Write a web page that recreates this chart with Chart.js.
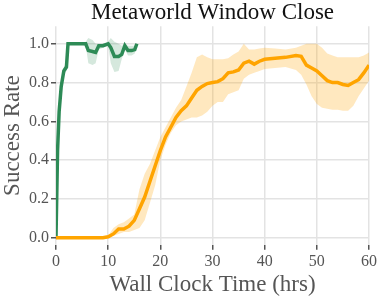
<!DOCTYPE html>
<html><head><meta charset="utf-8">
<script src="https://cdn.jsdelivr.net/npm/chart.js@4/dist/chart.umd.min.js"></script>
<style>html,body{margin:0;padding:0;background:#fff}#w{width:379px;height:297px}</style>
</head><body><div id="w"><canvas id="c"></canvas></div>
<script>
const greenX =     [0, 0.3, 0.6, 1.0, 1.5, 2.0, 2.3, 3, 4, 5, 5.7, 6.2, 7, 7.6, 8.2, 9, 10, 10.5, 11.2, 12, 12.6, 13.2, 13.8, 14.5, 15.1, 15.5];
const greenMean =  [0, 0.45, 0.65, 0.78, 0.86, 0.88, 1.0, 1.0, 1.0, 1.0, 1.0, 0.965, 0.96, 0.955, 0.99, 0.99, 1.0, 0.98, 0.935, 0.935, 0.945, 0.99, 0.965, 0.965, 0.97, 1.0];
const greenLow =   [0, 0.4, 0.6, 0.76, 0.84, 0.86, 0.995, 0.995, 0.995, 0.995, 0.99, 0.9, 0.89, 0.9, 0.97, 0.98, 0.99, 0.9, 0.855, 0.86, 0.92, 0.97, 0.94, 0.94, 0.95, 0.995];
const greenHigh =  [0, 0.5, 0.7, 0.8, 0.88, 0.9, 1.005, 1.005, 1.005, 1.005, 1.01, 1.03, 1.02, 1.0, 1.0, 1.0, 1.01, 1.03, 1.01, 1.0, 0.99, 1.0, 0.99, 0.99, 0.99, 1.005];

const orangeX =    [0, 9, 10, 11, 12, 13, 14, 15, 16, 17, 18, 19, 20, 21, 22, 23, 24, 25, 26, 27, 28, 29, 30, 31, 32, 33, 34, 35, 36, 37, 38, 39, 40, 42, 44, 46, 47, 48, 49, 50, 51, 52, 53, 54, 55, 56, 57, 58, 59, 60];
const orangeMean = [0, 0, 0.005, 0.02, 0.045, 0.045, 0.06, 0.09, 0.15, 0.21, 0.29, 0.37, 0.45, 0.52, 0.57, 0.62, 0.655, 0.68, 0.72, 0.76, 0.78, 0.795, 0.80, 0.805, 0.82, 0.85, 0.855, 0.865, 0.90, 0.91, 0.895, 0.91, 0.92, 0.925, 0.93, 0.94, 0.935, 0.89, 0.875, 0.86, 0.835, 0.81, 0.80, 0.80, 0.79, 0.785, 0.80, 0.815, 0.85, 0.89];
const orangeLow =  [0, 0, 0, 0.01, 0.02, 0.03, 0.03, 0.04, 0.05, 0.09, 0.18, 0.27, 0.40, 0.48, 0.54, 0.58, 0.60, 0.61, 0.62, 0.62, 0.63, 0.65, 0.68, 0.70, 0.70, 0.74, 0.75, 0.76, 0.82, 0.84, 0.85, 0.86, 0.87, 0.875, 0.88, 0.865, 0.84, 0.79, 0.73, 0.69, 0.67, 0.665, 0.66, 0.66, 0.655, 0.655, 0.68, 0.73, 0.77, 0.81];
const orangeHigh = [0, 0, 0.01, 0.05, 0.07, 0.08, 0.10, 0.12, 0.25, 0.33, 0.38, 0.45, 0.52, 0.57, 0.62, 0.67, 0.71, 0.78, 0.85, 0.93, 0.945, 0.93, 0.92, 0.92, 0.92, 0.925, 0.945, 0.96, 1.0, 0.97, 0.97, 0.975, 0.98, 0.975, 0.97, 0.98, 0.99, 1.0, 1.0, 1.0, 0.98, 0.95, 0.94, 0.93, 0.93, 0.93, 0.93, 0.93, 0.94, 0.955];

const xTicks = [0, 10, 20, 30, 40, 50, 60];
const yTicks = [0.0, 0.2, 0.4, 0.6, 0.8, 1.0];
const titleText = "Metaworld Window Close";
const xLabel = "Wall Clock Time (hrs)";
const yLabel = "Success Rate";

const pts = (xs, ys) => xs.map((x, i) => ({x: x, y: ys[i]}));
const GREEN = '#2e8b57', ORANGE = '#ffa500';
const band = (xs, ys, col, fill) => ({data: pts(xs, ys), borderWidth: 0, pointRadius: 0, backgroundColor: col, fill: fill, tension: 0});
const FONT = "'Liberation Serif', 'DejaVu Serif', serif";
Chart.defaults.font.family = FONT;

// center the title over the plot area (as in the reference)
const titleOverPlot = {
  id: 'titleOverPlot',
  afterLayout(chart) {
    const t = chart.titleBlock, a = chart.chartArea;
    if (t && a) { t.left = a.left; t.right = a.right; t.width = a.right - a.left; }
  }
};

new Chart(document.getElementById('c'), {
  type: 'line',
  data: {datasets: [
    band(orangeX, orangeHigh, 'rgba(255,165,0,0.25)', false),
    band(orangeX, orangeLow, 'rgba(255,165,0,0.25)', '-1'),
    {data: pts(orangeX, orangeMean), borderColor: ORANGE, borderWidth: 3.5, pointRadius: 0, fill: false, tension: 0},
    band(greenX, greenHigh, 'rgba(46,139,87,0.2)', false),
    band(greenX, greenLow, 'rgba(46,139,87,0.2)', '-1'),
    {data: pts(greenX, greenMean), borderColor: GREEN, borderWidth: 3.5, pointRadius: 0, fill: false, tension: 0}
  ]},
  plugins: [titleOverPlot],
  options: {
    responsive: true, maintainAspectRatio: false, animation: false,
    layout: {padding: {top: 0, right: 9, left: 1, bottom: 1}},
    plugins: {
      legend: {display: false}, tooltip: {enabled: false},
      title: {display: true, text: titleText, color: '#111', font: {family: FONT, size: 23, weight: 'normal', lineHeight: 1.1}, padding: {top: 0, bottom: 1}}
    },
    scales: {
      x: {type: 'linear', min: 0, max: 60,
        afterBuildTicks: a => { a.ticks = xTicks.map(v => ({value: v})); },
        grid: {color: '#e3e3e3', lineWidth: 1.5, tickColor: '#555', tickLength: 5, drawTicks: true},
        border: {display: false},
        ticks: {color: '#555', font: {family: FONT, size: 16}, padding: 2, maxRotation: 0, callback: v => String(v)},
        title: {display: true, text: xLabel, color: '#555', font: {family: FONT, size: 23, lineHeight: 1.0}, padding: {top: 0, bottom: 0}}
      },
      y: {type: 'linear', min: -0.036, max: 1.09,
        afterBuildTicks: a => { a.ticks = yTicks.map(v => ({value: v})); },
        grid: {color: '#e3e3e3', lineWidth: 1.5, tickColor: '#555', tickLength: 5, drawTicks: true},
        border: {display: false},
        ticks: {color: '#555', font: {family: FONT, size: 16}, padding: 2, callback: v => v.toFixed(1)},
        title: {display: true, text: yLabel, color: '#555', font: {family: FONT, size: 23, lineHeight: 1.0}, padding: {top: 0, bottom: 3}}
      }
    }
  }
});
</script></body></html>
